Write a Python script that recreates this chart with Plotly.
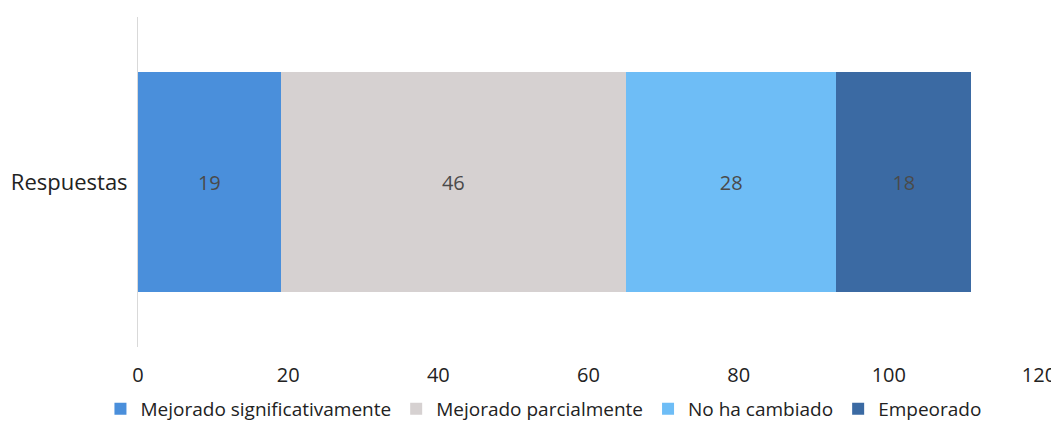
import plotly.graph_objects as go

# Data
categoria = ["Respuestas"]
series = ["Mejorado significativamente", "Mejorado parcialmente", "No ha cambiado", "Empeorado"]
valores = [[19], [46], [28], [18]]
colores = ["#4a8fdb", "#d6d1d1", "#6ebdf6", "#3b6aa3"]

FONT = "Open Sans, Liberation Sans, sans-serif"

fig = go.Figure()
for nombre, vals, color in zip(series, valores, colores):
    fig.add_trace(go.Bar(
        y=categoria, x=vals,
        orientation="h",
        name=nombre,
        marker=dict(color=color, line_width=0),
        text=vals,
        textposition="inside",
        insidetextanchor="middle",
        textfont=dict(color="#4a4a4a", size=20, family=FONT),
    ))

# page body has an 8px margin, figure offset by that much
fig.update_layout(
    barmode="stack",
    bargap=0.335,
    width=1051, height=420,
    paper_bgcolor="white",
    plot_bgcolor="white",
    font=dict(family=FONT, color="#222222", size=20),
    margin=dict(l=130, r=20, t=9, b=81),
    showlegend=True,
    legend=dict(
        orientation="h",
        x=0.45, xanchor="center",
        yref="container", y=-0.095, yanchor="bottom",
        font=dict(size=19, color="#222222"),
        traceorder="normal",
        itemwidth=30,
    ),
)
fig.update_xaxes(
    range=[0, 120], dtick=20, automargin=False,
    showgrid=False, zeroline=False, showline=False,
    ticks="outside", ticklen=10, tickcolor="rgba(0,0,0,0)",
    tickfont=dict(size=20, color="#222222"),
    ticklabeloverflow="allow",
)
fig.update_yaxes(
    automargin=False,
    showgrid=False, zeroline=False,
    showline=True, linecolor="#d9d9d9", linewidth=1,
    ticks="outside", ticklen=5, tickcolor="rgba(0,0,0,0)",
    tickfont=dict(size=22, color="#222222"),
)

fig.write_html("out.html")
